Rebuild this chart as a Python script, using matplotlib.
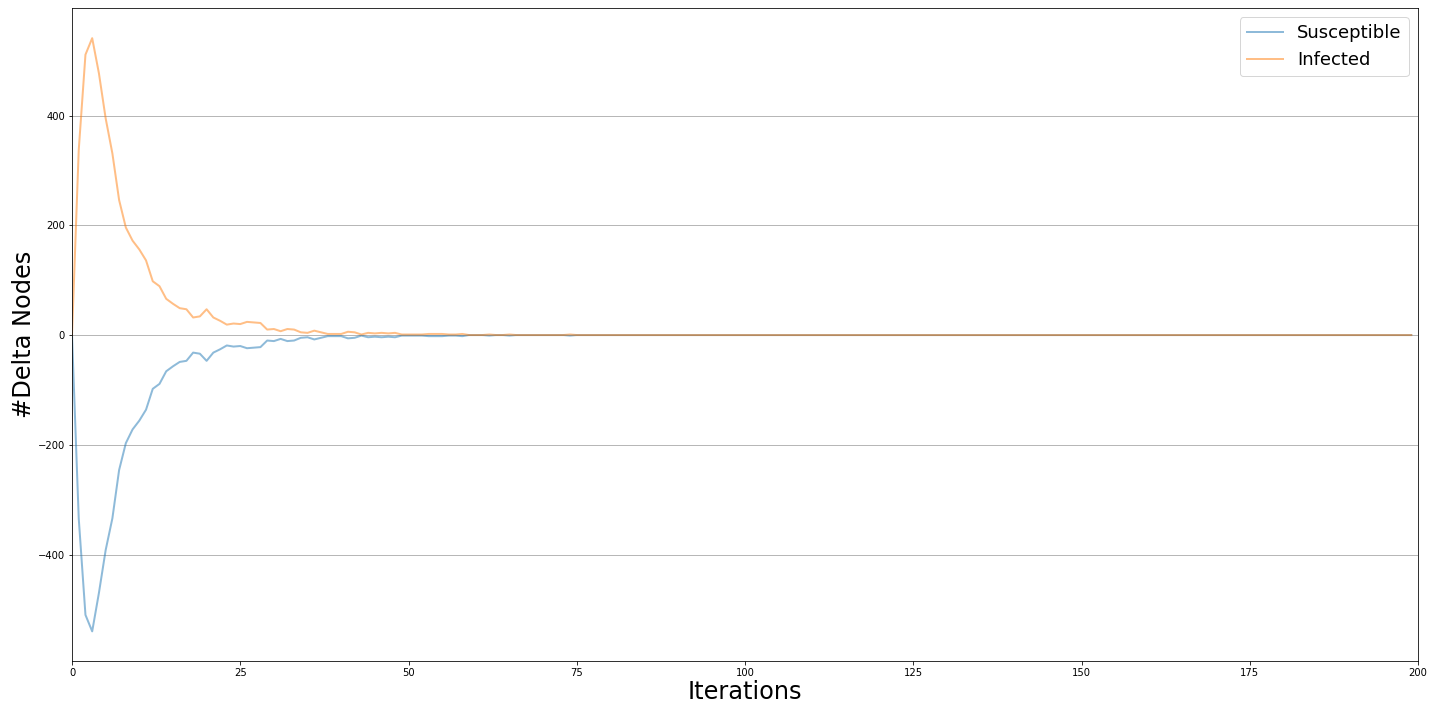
import matplotlib
matplotlib.use("Agg")
import matplotlib.pyplot as plt
import numpy as np

iterations = list(range(200))

infected_head = [0, 337, 511, 541, 477, 395, 331, 246, 196, 172,
                 156, 136, 98, 89, 66, 57, 49, 47, 32, 34,
                 47, 32, 26, 19, 21, 20, 24, 23, 22, 10,
                 11, 7, 11, 10, 5, 4, 8, 5, 2, 2,
                 2, 6, 5, 1, 4, 3, 4, 3, 4, 1,
                 1, 1, 1, 2, 2, 2, 1, 1, 2, 0,
                 0, 0, 1, 0, 0, 1, 0, 0, 0, 0,
                 0, 0, 0, 0, 1]
susceptible_head = [0, -334, -510, -540, -470, -392, -334, -246, -197, -172,
                    -156, -136, -98, -89, -66, -57, -49, -47, -32, -34,
                    -47, -32, -26, -19, -21, -20, -24, -23, -22, -10,
                    -11, -7, -11, -10, -5, -4, -8, -5, -2, -2,
                    -2, -6, -5, -1, -4, -3, -4, -3, -4, -1,
                    -1, -1, -1, -2, -2, -2, -1, -1, -2, 0,
                    0, 0, -1, 0, 0, -1, 0, 0, 0, 0,
                    0, 0, 0, 0, -1]

infected = infected_head + [0] * (len(iterations) - len(infected_head))
susceptible = susceptible_head + [0] * (len(iterations) - len(susceptible_head))

series_names = ["Susceptible", "Infected"]
xticks = [0, 25, 50, 75, 100, 125, 150, 175, 200]
yticks = [-400, -200, 0, 200, 400]

W, H, DPI = 1437, 717, 72
fig = plt.figure(figsize=(W / DPI, H / DPI), dpi=DPI)
ax = fig.add_axes([72 / W, 1 - 661 / H, (1418 - 72) / W, (661 - 8) / H])

ax.plot(iterations, susceptible, color="tab:blue", alpha=0.5, lw=2, label=series_names[0])
ax.plot(iterations, infected, color="tab:orange", alpha=0.5, lw=2, label=series_names[1])

ax.set_xlim(0, 200)
ax.set_ylim(-594, 596)
ax.set_xticks(xticks)
ax.set_yticks(yticks)
ax.tick_params(labelsize=10)
ax.grid(axis="y", color="#b0b0b0", lw=1.0, alpha=0.9)
ax.set_axisbelow(True)
ax.set_xlabel("Iterations", fontsize=24, labelpad=2)
ax.set_ylabel("#Delta Nodes", fontsize=24, labelpad=2)
ax.legend(loc="upper right", fontsize=18)

fig.savefig("out.png", dpi=DPI)
